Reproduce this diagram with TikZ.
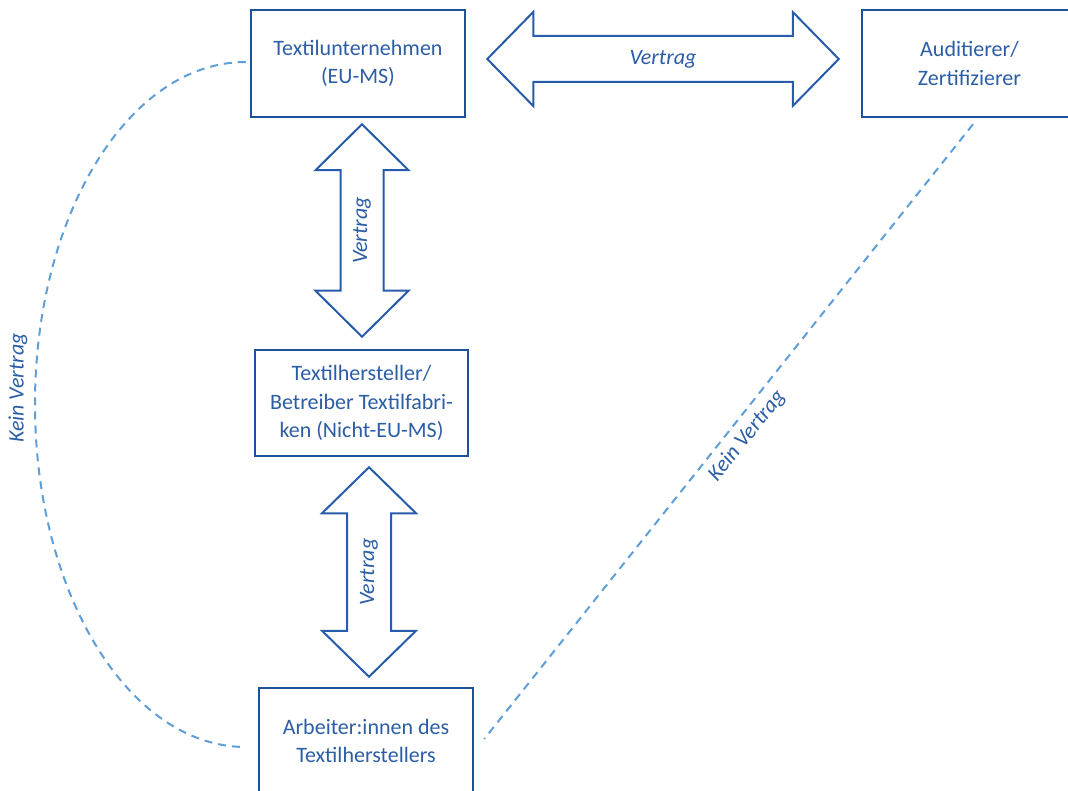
\documentclass[tikz,border=0pt]{standalone}
\usepackage{fontspec}
\setmainfont{Carlito}
\usetikzlibrary{calc}
\definecolor{boxblue}{RGB}{31,80,155}
\definecolor{txtblue}{RGB}{44,94,166}
\definecolor{arrblue}{RGB}{40,92,170}
\definecolor{dashblue}{RGB}{95,158,215}
\tikzset{
  partybox/.style={draw=boxblue, line width=2.5pt, fill=white, text=txtblue, align=center,
    inner sep=0pt, font=\fontsize{22}{28.5}\selectfont},
  blockarrow/.style={draw=arrblue, line width=2pt, line join=miter, fill=white},
  arrlabel/.style={text=txtblue, font=\fontsize{22}{24}\selectfont\itshape, inner sep=0pt},
  nocontract/.style={draw=dashblue, line width=2pt, dash pattern=on 8pt off 6pt},
}
\begin{document}
\begin{tikzpicture}[x=1pt,y=-1pt]
\useasboundingbox (0,0) rectangle (1068,791);
\clip (0,0) rectangle (1068,791);

% parties
\node[partybox, minimum width=214pt, minimum height=107pt] (tu) at (358,63.5) {Textilunternehmen\\(EU-MS)};
\node[partybox, minimum width=215pt, minimum height=107pt] (au) at (969.5,63.5) {Auditierer/\\Zertifizierer};
\node[partybox, minimum width=213pt, minimum height=106pt] (th) at (361.5,403) {Textilhersteller/\\Betreiber Textilfabri-\\ken (Nicht-EU-MS)};
\node[partybox, minimum width=214pt, minimum height=106pt] (ar) at (366,741) {Arbeiter:innen des\\Textilherstellers};

% tips of the block arrows
\coordinate (hA) at ($(tu.east)+(21,-4.5)$);
\coordinate (hB) at ($(au.west)+(-22,-4.5)$);
\coordinate (v1A) at ($(tu.south)+(4,6)$);
\coordinate (v1B) at ($(th.north)+(0.5,-12)$);
\coordinate (v2A) at ($(th.south)+(7.5,10)$);
\coordinate (v2B) at ($(ar.north)+(3,-10)$);

% horizontal double arrow
\draw[blockarrow] (hA) -- ($(hA)+(46,-47)$) -- ($(hA)+(46,-23)$) -- ($(hB)+(-46,-23)$)
  -- ($(hB)+(-46,-47)$) -- (hB) -- ($(hB)+(-46,47)$) -- ($(hB)+(-46,23)$)
  -- ($(hA)+(46,23)$) -- ($(hA)+(46,47)$) -- cycle;
\node[arrlabel] (lh) at ($(hA)!0.5!(hB)$) {Vertrag};

% vertical double arrow 1
\draw[blockarrow] (v1A) -- ($(v1A)+(46.5,46)$) -- ($(v1A)+(21.5,46)$) -- ($(v1B)+(21.5,-46)$)
  -- ($(v1B)+(46.5,-46)$) -- (v1B) -- ($(v1B)+(-46.5,-46)$) -- ($(v1B)+(-21.5,-46)$)
  -- ($(v1A)+(-21.5,46)$) -- ($(v1A)+(-46.5,46)$) -- cycle;
\node[arrlabel, rotate=90] (lv1) at ($(v1A)!0.5!(v1B)$) {Vertrag};

% vertical double arrow 2
\draw[blockarrow] (v2A) -- ($(v2A)+(47,46)$) -- ($(v2A)+(22,46)$) -- ($(v2B)+(22,-46)$)
  -- ($(v2B)+(47,-46)$) -- (v2B) -- ($(v2B)+(-47,-46)$) -- ($(v2B)+(-22,-46)$)
  -- ($(v2A)+(-22,46)$) -- ($(v2A)+(-47,46)$) -- cycle;
\node[arrlabel, rotate=90] (lv2) at ($(v2A)!0.5!(v2B)$) {Vertrag};

% no-contract relations
\coordinate (cL1) at ($(tu.west)+(-4,-1.5)$);
\coordinate (cL2) at ($(ar.west)+(-12,6)$);
\draw[nocontract] (cL1) .. controls ($(cL1)+(-117,0)$) and (35,215) .. (35,404)
  .. controls (35,593) and ($(cL2)+(-117,0)$) .. (cL2);
\node[arrlabel, rotate=90] (lk1) at (18,388) {Kein Vertrag};

\coordinate (cR1) at ($(au.south)+(3.5,6)$);
\coordinate (cR2) at ($(ar.east)+(10,-2)$);
\draw[nocontract] (cR1) -- (cR2);
\node[arrlabel, rotate=51.5] (lk2) at (747,436) {Kein Vertrag};
\end{tikzpicture}
\end{document}
